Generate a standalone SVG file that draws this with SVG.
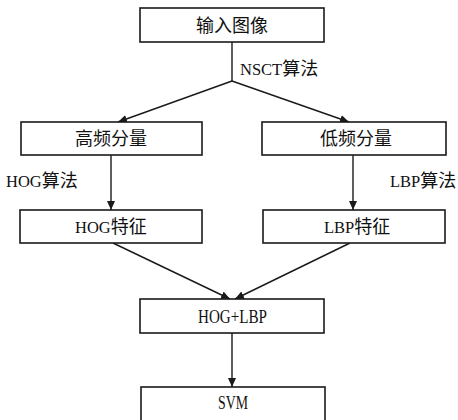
<svg xmlns="http://www.w3.org/2000/svg" width="458" height="420" viewBox="0 0 458 420">
<defs>
<style>
.box{fill:#fff;stroke:#1a1a1a;stroke-width:1.6}
.ln{fill:none;stroke:#1a1a1a;stroke-width:1.4}
.cjk{font-family:"Noto Sans CJK SC","Liberation Serif",serif;font-size:18px;fill:#111}
.lat{font-family:"Liberation Serif","Noto Sans CJK SC",serif;font-size:16.5px}
.big{font-size:19px}
.mid{text-anchor:middle}
</style>
<marker id="ah" markerWidth="9" markerHeight="8" refX="9" refY="4" orient="auto" markerUnits="userSpaceOnUse">
<path d="M0,0 L9,4 L0,8 Z" fill="#1a1a1a"/>
</marker>
</defs>
<rect width="458" height="420" fill="#fff"/>
<g id="connectors">
<polyline class="ln" points="232,42 232,81"/>
<line class="ln" x1="232" y1="81" x2="118" y2="122" marker-end="url(#ah)"/>
<line class="ln" x1="232" y1="81" x2="349" y2="122" marker-end="url(#ah)"/>
<line class="ln" x1="111" y1="155" x2="111" y2="210" marker-end="url(#ah)"/>
<line class="ln" x1="353" y1="155" x2="353" y2="210" marker-end="url(#ah)"/>
<line class="ln" x1="113" y1="243" x2="230" y2="299" marker-end="url(#ah)"/>
<line class="ln" x1="350" y1="243" x2="235" y2="299" marker-end="url(#ah)"/>
<line class="ln" x1="232" y1="333" x2="232" y2="387" marker-end="url(#ah)"/>
<text class="cjk" x="240" y="74.5"><tspan class="lat">NSCT</tspan>算法</text>
<text class="cjk" x="6" y="186.5"><tspan class="lat">HOG</tspan>算法</text>
<text class="cjk" x="390" y="186.5"><tspan class="lat">LBP</tspan>算法</text>
</g>
<g id="input">
<rect class="box" x="140" y="8" width="184" height="34"/>
<text class="cjk mid" x="232" y="31.5">输入图像</text>
</g>
<g id="high">
<rect class="box" x="21" y="122" width="181" height="33"/>
<text class="cjk mid" x="111" y="144.5">高频分量</text>
</g>
<g id="low">
<rect class="box" x="262" y="122" width="184" height="33"/>
<text class="cjk mid" x="356" y="144.5">低频分量</text>
</g>
<g id="hogfeat">
<rect class="box" x="20" y="210" width="182" height="33"/>
<text class="cjk" x="75" y="233"><tspan class="lat">HOG</tspan>特征</text>
</g>
<g id="lbpfeat">
<rect class="box" x="263" y="210" width="182" height="33"/>
<text class="cjk" x="324" y="233"><tspan class="lat">LBP</tspan>特征</text>
</g>
<g id="fusion">
<rect class="box" x="140" y="299" width="184" height="34"/>
<text class="lat big" x="198" y="322.5" textLength="69" lengthAdjust="spacingAndGlyphs" fill="#111">HOG+LBP</text>
</g>
<g id="svm">
<rect class="box" x="141" y="387" width="184" height="45"/>
<text class="lat big" x="218" y="409" textLength="30" lengthAdjust="spacingAndGlyphs" fill="#111">SVM</text>
</g>
</svg>
